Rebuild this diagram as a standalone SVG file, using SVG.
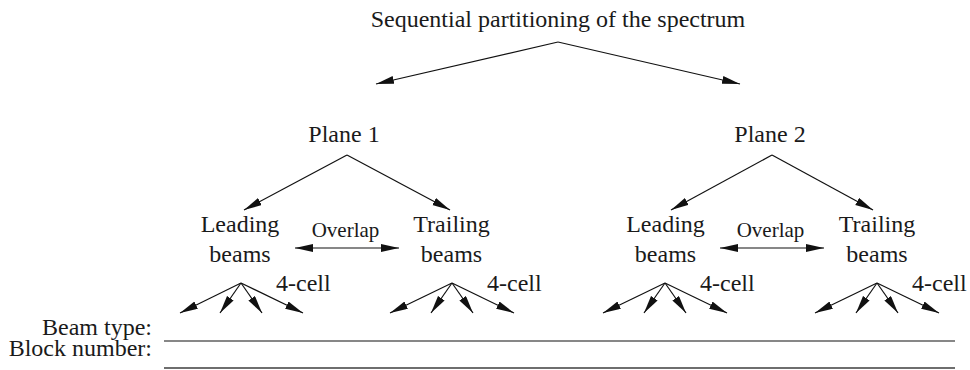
<svg xmlns="http://www.w3.org/2000/svg" width="970" height="370" viewBox="0 0 970 370">
<style>
text{font-family:"Liberation Serif","Times New Roman",serif;fill:#1a1a1a;font-size:24px}
.m{text-anchor:middle}
.e{text-anchor:end}
.ov{font-size:21px}
.c path,.c line{stroke:#111;stroke-width:1.2;fill:none}
.c .a{marker-end:url(#ah)}
.c .d{marker-start:url(#as);marker-end:url(#ah)}
</style>
<defs>
<marker id="ah" markerUnits="userSpaceOnUse" markerWidth="19" markerHeight="9" refX="18" refY="4" orient="auto" viewBox="0 0 19 9">
<path d="M0,0 L18,4 L0,8 Z" fill="#111"/>
</marker>
<marker id="as" markerUnits="userSpaceOnUse" markerWidth="19" markerHeight="9" refX="0" refY="4" orient="auto" viewBox="0 0 19 9">
<path d="M18,0 L0,4 L18,8 Z" fill="#111"/>
</marker>
</defs>
<g id="title"><text class="m" x="558" y="27">Sequential partitioning of the spectrum</text></g>
<g id="plane1"><text class="m" x="344" y="142">Plane 1</text></g>
<g id="plane2"><text class="m" x="770" y="142">Plane 2</text></g>
<g id="leading1"><text class="m" x="240" y="232">Leading</text><text class="m" x="240" y="262">beams</text></g>
<g id="trailing1"><text class="m" x="451.5" y="232">Trailing</text><text class="m" x="451.5" y="262">beams</text></g>
<g id="leading2"><text class="m" x="665.5" y="232">Leading</text><text class="m" x="665.5" y="262">beams</text></g>
<g id="trailing2"><text class="m" x="877" y="232">Trailing</text><text class="m" x="877" y="262">beams</text></g>
<g id="overlap1"><text class="m ov" x="345.5" y="237">Overlap</text></g>
<g id="overlap2"><text class="m ov" x="770.5" y="237">Overlap</text></g>
<g id="cell1"><text x="276" y="291">4-cell</text></g>
<g id="cell2"><text x="487" y="291">4-cell</text></g>
<g id="cell3"><text x="700" y="291">4-cell</text></g>
<g id="cell4"><text x="912" y="291">4-cell</text></g>
<g id="labels"><text class="e" x="152" y="335">Beam type:</text><text class="e" x="152" y="356">Block number:</text></g>
<g id="connectors" class="c">
<path class="a" d="M558,42 L376,84"/>
<path class="a" d="M558,42 L740,84"/>
<path class="a" d="M347,155 L244,210"/>
<path class="a" d="M347,155 L450,210"/>
<path class="a" d="M772,155 L671,210"/>
<path class="a" d="M772,155 L873,210"/>
<path class="d" d="M295,248 L399,248"/>
<path class="d" d="M720,248 L824,248"/>
<path class="a" d="M241,283 L180,313"/>
<path class="a" d="M241,283 L220,313"/>
<path class="a" d="M241,283 L262,313"/>
<path class="a" d="M241,283 L303,313"/>
<path class="a" d="M452,283 L390,313"/>
<path class="a" d="M452,283 L431,313"/>
<path class="a" d="M452,283 L473,313"/>
<path class="a" d="M452,283 L514,313"/>
<path class="a" d="M665,283 L603,313"/>
<path class="a" d="M665,283 L644,313"/>
<path class="a" d="M665,283 L686,313"/>
<path class="a" d="M665,283 L727,313"/>
<path class="a" d="M877,283 L815,313"/>
<path class="a" d="M877,283 L856,313"/>
<path class="a" d="M877,283 L898,313"/>
<path class="a" d="M877,283 L939,313"/>
<line x1="164" y1="341" x2="955" y2="341"/>
<line x1="164" y1="368" x2="955" y2="368" style="stroke:#6e6e6e;stroke-width:2"/>
</g>
</svg>
